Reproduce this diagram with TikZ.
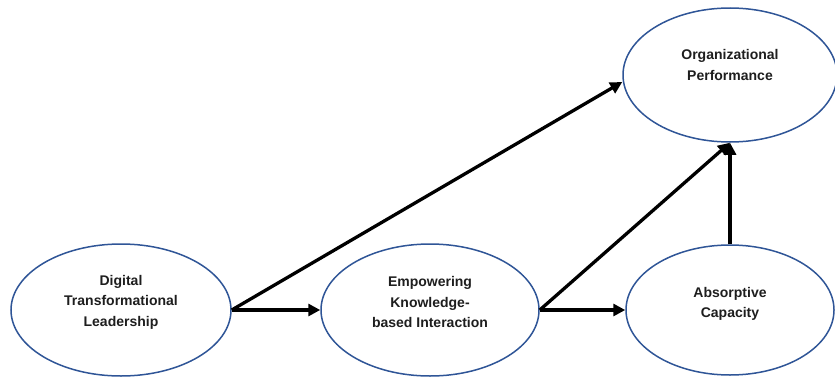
\documentclass[tikz,border=0pt]{standalone}
\usepackage{fontspec}
\setmainfont{Liberation Sans}
\usetikzlibrary{shapes.geometric,arrows.meta}

\definecolor{ovalblue}{RGB}{47,85,151}
\definecolor{txtgray}{RGB}{30,30,30}

\tikzset{
    oval/.style={ellipse, draw=ovalblue, line width=1.5pt, fill=white, inner sep=0pt},
    txt/.style={align=center, text=txtgray, font=\fontsize{14}{20.5}\selectfont\bfseries},
    path/.style={-{Triangle[length=12pt,width=12pt]}, line width=3.3pt, black},
}

\begin{document}
\begin{tikzpicture}[x=1pt,y=-1pt]
        \useasboundingbox (0,0) rectangle (835,380);

        % ellipse nodes
        \node[oval, minimum width=220pt, minimum height=132pt] (DTL) at (121,310) {};
        \node[oval, minimum width=218pt, minimum height=132pt] (EKI) at (430,310) {};
        \node[oval, minimum width=208pt, minimum height=130pt] (AC) at (730,310) {};
        \node[oval, minimum width=214pt, minimum height=134pt] (OP) at (730,75) {};

        % ellipse texts
        \node[txt] (DTLtext) at ([yshift=8pt]DTL.center) {Digital\\Transformational\\Leadership};
        \node[txt] (EKItext) at ([yshift=8pt]EKI.center) {Empowering\\Knowledge-\\based Interaction};
        \node[txt] (ACtext) at ([yshift=6pt]AC.center) {Absorptive\\Capacity};
        \node[txt] (OPtext) at ([yshift=10pt]OP.center) {Organizational\\Performance};

        % arrows
        \draw[path] (DTL.east) -- (EKI.west);
        \draw[path] (DTL.east) -- ([yshift=-7pt]OP.west);
        \draw[path] (EKI.east) -- (AC.west);
        \draw[path] (EKI.east) -- (OP.south);
        \draw[path] (AC.north) -- (OP.south);
    \end{tikzpicture}
\end{document}
